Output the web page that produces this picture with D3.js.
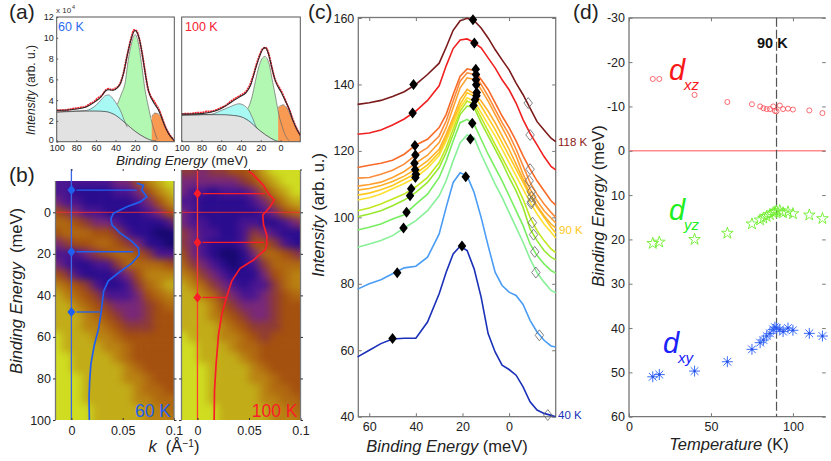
<!DOCTYPE html>
<html><head><meta charset="utf-8">
<script src="https://cdn.jsdelivr.net/npm/d3@7"></script>
<style>
html,body{margin:0;padding:0;background:#fff}
svg{display:block;font-family:"Liberation Sans",Arial,sans-serif}
</style></head><body><svg id="c" width="831" height="461"></svg>
<script>
// ---------- panel (a) ----------
const aGray60=[[100,2.85],[80,2.95],[60,2.95],[50,2.9],[40,2.55],[30,1.8],[20,1.0],[10,.4],[0,.05],[-5,0]];
const aCyan60=[[100,2.85],[70,3.0],[60,3.5],[55,4.0],[50,4.45],[47,4.5],[44,4.3],[40,3.8],[35,3.0],[30,1.8],[28,1.4]];
const aGreen60=[[45,0],[38,3.6],[37,3.86],[33.7,4.66],[30.3,5.6],[26.9,7.9],[23.5,9.5],[20,10.3],[16.7,9.5],[13.3,7.4],[9.9,5.0],[6.5,3.4],[3,1.9],[0,.96],[-2.7,.2],[-3.5,0]];
const aOrange60=[[3,2.4],[0,2.75],[-3,2.7],[-7,2.3],[-10,1.6],[-13,1.0],[-17,.4],[-20,.1],[-20,0],[-4.5,0]];
const aFit60=[[100,3.0],[80,3.15],[70,3.35],[60,3.9],[55,4.3],[50,4.9],[47,5.0],[42,4.95],[38,5.2],[35,5.6],[32,6.5],[28,8.3],[24,9.9],[20,10.7],[18,10.5],[15,9.6],[12,8.0],[9,6.2],[6,4.8],[3,4.1],[0,3.6],[-3,3.2],[-6,2.6],[-10,1.6],[-14,.8],[-20,.1]];
const aData60=[[100,3.02],[90,3.05],[85,3.15],[80,3.22],[75,3.3],[70,3.4],[66,3.65],[62,3.85],[58,4.2],[54,4.45],[50,4.95],[47,5.1],[44,5.0],[41,5.1],[38,5.25],[35,5.65],[32,6.55],[28,8.35],[24,9.95],[21,10.75],[19,10.7],[16,10.0],[13,8.6],[10,6.85],[7,5.15],[4,4.35],[1,3.95],[-2,3.45],[-5,2.95],[-8,2.15],[-11,1.4],[-14,.85],[-17,.45],[-20,.12]];
const aGray100=[[100,2.55],[80,2.6],[60,2.6],[50,2.55],[40,2.4],[30,1.85],[25,1.4],[20,1.0],[10,.35],[5,.1],[0,0]];
const aCyan100=[[100,2.55],[70,2.65],[60,3.0],[50,3.4],[42,3.65],[38,3.55],[32,3.0],[28,2.2],[25,1.5],[24,1.3]];
const aGreen100=[[40,0],[33,3.2],[32,3.4],[28.9,4.3],[25.5,5.8],[22,7.2],[18.7,8.0],[16,8.2],[11.9,7.6],[8.5,6],[5,4.3],[1.7,2.6],[-1.7,1.45],[-5,.6],[-8.5,.1],[-9,0]];
const aOrange100=[[2.4,3.3],[-2.7,3.55],[-6.8,3.2],[-11.9,2.1],[-17,1.1],[-20,.6],[-20,0],[-8.5,0]];
const aFit100=[[100,2.65],[80,2.7],[70,2.85],[60,3.2],[50,3.8],[45,4.1],[40,4.4],[35,4.7],[30,5.5],[26,6.8],[22,8.0],[18,8.9],[16,9.05],[14,8.9],[11,8],[8,6.8],[5,5.8],[2,5.2],[-1,4.7],[-4,4.1],[-8,3.3],[-12,2.2],[-16,1.3],[-20,.6]];
const aData100=[[100,2.68],[90,2.7],[85,2.78],[80,2.78],[75,2.9],[70,2.92],[65,3.05],[60,3.28],[55,3.5],[50,3.9],[45,4.2],[40,4.48],[36,4.72],[32,5.25],[28,6.25],[24,7.55],[21,8.35],[18,8.95],[15,9.05],[12,8.45],[9,7.25],[6,6.1],[3,5.45],[0,5.0],[-3,4.4],[-6,3.7],[-9,3.05],[-12,2.25],[-16,1.33],[-20,.62]];
const aYTicks=[0,2,4,6,8,10,12];
const aXTicks=[100,80,60,40,20,0];

// ---------- panel (b) ----------
const heatK=[-0.015,-0.005,0.005,0.015,0.025,0.035,0.045,0.055,0.065,0.075,0.085,0.095,0.105];
const heatE60=[-15,-10,-5,0,5,10,15,20,25,30,35,40,45,50,55,60,65,70,75,80,85,90,95,100];
const heat60=[
[2,2,2,2,2,2,3,3,5,7,8,9,9],
[2,2,1,1,1,1,2,2,3,5,7,8,9],
[3,2,2,1,1,1,1,1,2,3,5,7,8],
[5,4,3,2,2,1,1,1,1,2,3,5,6],
[6,6,5,4,3,3,2,1,1,1,1,2,4],
[5,6,6,6,5,5,4,2,1,1,0,0,1],
[3,4,5,5,6,6,5,4,3,1,1,0,0],
[2,2,2,3,4,5,6,6,5,4,2,2,2],
[3,2,1,1,2,2,4,6,6,6,6,5,4],
[5,4,2,1,1,1,2,3,5,7,7,7,7],
[7,6,5,4,2,1,1,2,4,6,7,8,8],
[8,7,6,5,4,2,2,2,3,5,6,7,7],
[8,8,7,6,5,4,3,3,3,4,5,6,6],
[8,8,8,7,6,5,4,3,3,4,5,5,5],
[8,8,8,7,7,6,5,4,4,4,5,5,5],
[9,8,8,8,7,7,6,5,5,5,5,5,5],
[9,8,8,8,8,7,7,6,5,5,5,5,5],
[9,9,8,8,8,8,7,6,5,5,5,5,5],
[9,9,8,8,8,8,8,7,6,5,5,5,5],
[9,9,9,8,8,8,8,7,7,6,5,5,5],
[9,9,9,8,8,8,8,8,7,6,6,5,5],
[9,9,9,8,8,8,8,8,7,7,6,6,6],
[9,9,9,9,8,8,8,8,8,7,7,6,6],
[9,9,9,9,8,8,8,8,8,7,7,7,6]];
const heatE100=[-20,-15,-10,-5,0,5,10,15,20,25,30,35,40,45,50,55,60,65,70,75,80,85,90,95,100];
const heat100=[
[4,4,3,4,4,5,5,6,8,9,9,9,9],
[3,3,3,3,3,3,4,5,7,8,9,9,9],
[3,2,2,1,2,2,2,3,5,7,8,9,9],
[2,2,1,1,1,1,1,2,3,5,7,8,8],
[3,2,1,1,1,1,1,1,2,3,5,6,7],
[3,2,2,1,1,1,2,2,1,1,2,3,4],
[4,3,2,2,1,1,2,4,3,2,1,1,1],
[4,3,2,1,1,1,2,5,5,4,2,1,1],
[5,3,2,1,0,0,1,3,6,6,5,4,3],
[6,4,3,2,1,0,1,2,4,6,6,6,6],
[7,6,4,3,2,1,1,1,3,5,6,7,7],
[8,7,6,4,3,2,1,2,2,4,6,7,7],
[8,8,7,6,4,3,2,2,3,4,5,6,6],
[8,8,8,7,5,4,3,3,3,4,5,5,5],
[8,8,8,7,6,5,4,3,3,4,5,5,5],
[8,8,8,8,7,6,5,4,4,4,5,5,5],
[9,8,8,8,7,7,6,5,4,5,5,5,5],
[9,9,8,8,8,7,6,6,5,5,5,5,5],
[9,9,8,8,8,8,7,6,5,5,5,5,5],
[9,9,9,8,8,8,8,7,6,5,5,5,5],
[9,9,9,8,8,8,8,7,7,6,5,5,5],
[9,9,9,8,8,8,8,8,7,6,6,5,5],
[9,9,9,8,8,8,8,8,7,7,6,6,5],
[9,9,9,9,8,8,8,8,8,7,7,6,6],
[9,9,9,9,8,8,8,8,8,7,7,7,6]];
const heatLevels=[0,1,2,3,4,5,6,7,8,9];
const heatColors=["#16086e","#2a0c8e","#4a1590","#782878","#8e3a38","#a4500f","#b06810","#b98212","#c2ac18","#cfdc20"];
const edc60=[[.0637,-14],[.0702,-13],[.0686,-10.7],[.0735,-7.5],[.067,-5],[.054,-2.7],[.041,.5],[.0385,2.9],[.0395,6],[.0476,10],[.059,14],[.0654,17.3],[.066,20.5],[.059,24.5],[.0476,28.5],[.036,33],[.0314,38],[.029,48],[.0265,56],[.0223,64],[.019,73],[.0178,81],[.0172,89],[.0175,100]];
const edc100=[[.0495,-19.9],[.0544,-18],[.064,-13],[.0689,-9],[.0744,-6],[.0705,-2.7],[.0634,1.3],[.0641,6],[.0673,11],[.0673,15.7],[.0657,18],[.0544,23],[.0414,27],[.0333,33],[.0285,40.5],[.0236,49],[.0204,59],[.0181,73],[.0165,86],[.0162,100]];
const peaks60=[[-10.7,.0637],[19,.0605],[48,.0277]];
const peaks100=[[-9,.0655],[14.5,.0645],[41,.0285]];
const bYTicks=[0,20,40,60,80,100];
const bXTicks=[0,0.05,0.1];

// ---------- panel (c) ----------
const cE=[65,60,55,50,45,40,35,30,27,24,21,18,15,12,9,6,3,0,-3,-6,-9,-12,-15,-18,-20];
const c118=[134,134.5,135.2,136.4,137.8,140,143,146.4,151.2,156.3,159.2,159.9,159.2,157,154,150.5,147.4,144.4,140.4,136.9,132.9,128.8,126.3,123.8,122.8];
const c110=[125,125.4,126.3,127.8,129.6,132,135.2,139.6,145.6,150.8,153.4,153.7,152.6,151,148,145,141.4,138.4,134.4,129.4,125.3,121.8,118.3,115.3,114.3];
const c100=[115,115.7,116.3,117.2,119,121.8,123.5,127,131,137,142.5,144.7,144.2,141.5,138.5,134.5,130.5,127,123,118.5,114.5,111,108,105,103.7];
const c97=[111.8,112,113,114.2,116,118.8,121,124.5,129,135,141,143.5,143,140,136.5,132.5,128.5,125,120.5,115.5,110.5,107,104,101.5,100];
const c94=[109.4,109.9,110.6,112,113.8,116.3,118.7,122.5,127,133,139,142,141.5,138.5,135,131,127,123,118.5,113,108.5,105,102,99.8,98.3];
const c92=[108.2,108.7,109.6,110.8,112.4,114.5,117,120.5,125,130,135.5,138.5,137.2,135,132,128.5,124.5,120.5,116,111.5,107,103.5,100.5,98,96.8];
const c90=[106.7,107.3,108.3,109.6,111.4,113.2,115.8,119.5,124,129,134,137.5,136.5,133.5,130,126.5,122.5,118.5,114.5,110.5,106.5,103,100,97,95.3];
const c88=[105.2,105.9,107,108.6,110.2,112,114.8,118.6,123,128,133,136,135,131.5,128,124.5,120.5,116.5,112.5,108.5,104.5,101,98,95.5,93.8];
const c86=[102,102.8,104,105.5,107,109.2,112,116.5,121,126.5,132,135,134,130,126,122,118,114,110,105.5,100,96,93,90.5,89.4];
const c84=[100.2,101,102,103.5,105.2,107.5,110.5,115,119.5,125,131,133.5,133,128.5,124.5,120.5,116.5,112,108,103,96.5,93,90,88,87.2];
const c80=[96.2,97,98,99.5,100.8,104,107,112,117,123,128.5,129.5,128,123.5,119,115,111,106.5,102,97.5,92,88.5,86,84,83.2];
const c75=[91,92,93,94.5,96.8,99,102,106.5,111,117,122.5,124.8,124,119,114.5,110,106,101.5,97,92.5,87.5,83.3,80.5,78,77.3];
const c60=[78.4,80,81.2,83,84.8,85.3,88,95,103,110.5,113.4,112.5,107.5,100,91.5,83.5,79.5,77.5,76.5,73.8,69,65.5,63,61.3,61];
const c40=[58,60,62,63.4,63.6,63.6,68.5,77,83.5,89,91.3,90,84.5,76,65,59.5,55.5,54.2,52.5,49,44.5,42,41,40.4,40];
const cColors=["#1a30b8","#4a9cf5","#88f098","#78ee60","#98e830","#c0e820","#ffe030","#ffc820","#ffb028","#ffa030","#fb8c3c","#f86a28","#f02020","#7a1a1a"];
const cDiamondLow=[[50,63.5],[48,83.3],[45.3,96.8],[44,101.5],[42.5,106.5],[42,108.6],[40.2,112],[40,113],[40.3,114.3],[40.6,116.3],[40.2,118.8],[40.4,121.6],[41.4,131.4],[41,140]];
const cDiamondPeak=[[20.2,91.4],[18.6,112.2],[16.6,123.6],[15.8,128.3],[15.3,133.7],[14.6,135.4],[14,136.6],[13.9,137.6],[14.1,139.9],[14.2,141.4],[14.2,143],[14.3,144.6],[14.9,152.5],[15.5,159.5]];
const cDiamondHollow=[[-16.6,40.5],[-13,64.5],[-11.5,83.4],[-11,89.6],[-10.5,94.8],[-10,98.4],[-9.5,104.2],[-9.6,104.7],[-9.7,106.2],[-9.5,107.7],[-8.6,111],[-9,114.5],[-9,124.8],[-8.2,134.4]];
const cYTicks=[40,60,80,100,120,140,160];
const cXTicks=[60,40,20,0];

// ---------- panel (d) ----------
const dT=[14.5,18.5,40,60,75,80,82,84,86,88,89,90,92,94,97,100,110,118];
const dXZ=[-16.2,-16.2,-12.6,-11,-10.5,-10,-9.6,-9.4,-9.4,-10,-9,-8.9,-10.2,-9.4,-9.5,-9.3,-9.1,-8.5];
const dYZ=[20.9,20.6,20,18.6,16.5,15.6,15.2,14.8,14.4,14,13.8,13.6,13.5,14,13.8,14.2,14.5,15.3];
const dXY=[51,50.5,49.7,47.6,44.8,43.3,42.7,41.8,41.2,40.3,39.8,40,40.3,40.8,40,40.5,41.2,41.8];
const dYTicks=[-30,-20,-10,0,10,20,30,40,50,60];
const dXTicks=[0,50,100];

// ---------- drawing ----------
const svg=d3.select("#c");
const defs=svg.append("defs");
const F=(d)=>String(d);
const GR="#777";
function txt(s,x,y,size,fill="#222",opt={}){
  const t=svg.append("text").attr("x",x).attr("y",y).attr("font-size",size).attr("fill",fill)
    .attr("text-anchor",opt.a||"start");
  if(opt.i) t.attr("font-style","italic");
  if(opt.b) t.attr("font-weight","bold");
  if(opt.r) t.attr("transform",`rotate(-90 ${x} ${y})`);
  return t.text(s);
}
function mixLabel(parts,x,y,size,opt={}){
  const t=svg.append("text").attr("x",x).attr("y",y).attr("font-size",size).attr("fill","#222").attr("text-anchor","middle");
  if(opt.r) t.attr("transform",`rotate(-90 ${x} ${y})`);
  parts.forEach(p=>{const s=t.append("tspan").text(p[0]).attr("xml:space","preserve");
    if(p[1]) s.attr("font-style","italic");
    if(p[2]) s.attr("baseline-shift","super").attr("font-size",size*.62);});
}
function axis(gen,tx,ty,ticks,fs,stroke,fmt=F,tsize=-3.5,pad=4){
  const g=svg.append("g").attr("transform",`translate(${tx},${ty})`)
    .call(gen.tickValues(ticks).tickFormat(fmt).tickSizeInner(tsize).tickSizeOuter(0).tickPadding(pad));
  g.select(".domain").attr("stroke",stroke).attr("stroke-width",1.3);
  g.selectAll(".tick line").attr("stroke",stroke).attr("stroke-width",1);
  g.selectAll("text").attr("font-size",fs).attr("fill","#222").attr("font-family",'"Liberation Sans",Arial,sans-serif');
  return g;
}

// (a)
function panelA(x0,x1,gray,cy,gr,or,fit,dat,showY){
  const x=d3.scaleLinear().domain([100,-20]).range([x0,x1]);
  const y=d3.scaleLinear().domain([0,12]).range([141.7,17]);
  const clipId="a"+Math.round(x0);
  defs.append("clipPath").attr("id",clipId).append("rect").attr("x",x0).attr("y",17).attr("width",x1-x0).attr("height",124.7);
  const g=svg.append("g").attr("clip-path",`url(#${clipId})`);
  const area=(pts,fill)=>{
    const p=[...pts];
    if(p[p.length-1][1]>0) p.push([p[p.length-1][0],0]);
    if(p[0][1]>0) p.push([p[0][0],0]);
    g.append("path").attr("d",d3.line().x(d=>x(d[0])).y(d=>y(d[1])).curve(d3.curveLinear)(p)+"Z").attr("fill",fill);
  };
  const line=(pts,st,w)=>g.append("path").attr("d",d3.line().x(d=>x(d[0])).y(d=>y(d[1])).curve(d3.curveMonotoneX)(pts)).attr("fill","none").attr("stroke",st).attr("stroke-width",w);
  area(gr,"#b2f8b2"); area(cy,"#a8f8f4"); area(or,"#f89a52"); area(gray,"#e2e2e2");
  line(gr.filter(d=>d[1]>0),"#6a6a6a",.7); line(cy,"#6a6a6a",.7); line(or.filter(d=>d[1]>0),"#6a6a6a",.7); line(gray,"#444",.8);
  line(dat,"#f8202c",1.9).attr("stroke-dasharray","2 .6"); line(fit,"#2a2a2a",1.1);
  svg.append("rect").attr("x",x0).attr("y",17).attr("width",x1-x0).attr("height",124.7).attr("fill","none").attr("stroke","#555").attr("stroke-width",1);
  const g1=axis(d3.axisBottom(x),0,141.7,aXTicks,9,"#555",F,-1.5);
  g1.select(".domain").attr("stroke","none");
  g1.selectAll("text").attr("dy","0.55em");
  if(showY){
    const g2=axis(d3.axisLeft(y),x0,0,aYTicks,9,"#555",F,-1.5,3);
    g2.select(".domain").attr("stroke","none");
    g2.selectAll("text").filter(d=>d===0).attr("dy","0.05em");
  }
}
panelA(56.7,174.3,aGray60,aCyan60,aGreen60,aOrange60,aFit60,aData60,true);
panelA(181.7,300.3,aGray100,aCyan100,aGreen100,aOrange100,aFit100,aData100,false);
txt("x 10",56,13,8,"#333");
txt("4",72,9,5.5,"#333");
txt("60 K",58,31,12.5,"#2b6cf0");
txt("100 K",185,31,12.5,"#f62030");
mixLabel([["Binding Energy",1],[" (meV)"]],182,164.5,13.5);
mixLabel([["Intensity",1],[" (arb. u.)"]],35,90,12,{r:true});

// (b)
const heatColor=d3.scaleLinear().domain(heatLevels).range(heatColors);
defs.append("filter").attr("id","soft").attr("x","-10%").attr("y","-10%").attr("width","120%").attr("height","120%")
  .attr("color-interpolation-filters","sRGB").append("feGaussianBlur").attr("stdDeviation","4 3.6");
function panelB(x0,x1,k0,k1,topE,topY,rows,Es,edc,peaks,col,name,lineCol,showY){
  const x=d3.scaleLinear().domain([k0,k1]).range([x0,x1]);
  const y=d3.scaleLinear().domain([0,100]).range([212.3,420]);
  const id="b"+Math.round(x0);
  defs.append("clipPath").attr("id",id).append("rect").attr("x",x0).attr("y",topY).attr("width",x1-x0).attr("height",420-topY);
  const g=svg.append("g").attr("clip-path",`url(#${id})`).append("g").attr("filter","url(#soft)");
  const dk=(heatK[1]-heatK[0])/2, dE=2.5;
  rows.forEach((r,i)=>r.forEach((v,j)=>{
    let l=x(heatK[j]-dk), rr=x(heatK[j]+dk), t=y(Es[i]-dE), b=y(Es[i]+dE);
    if(j===0) l-=30; if(j===r.length-1) rr+=30; if(i===0) t-=30; if(i===rows.length-1) b+=30;
    g.append("rect").attr("x",l).attr("y",t).attr("width",rr-l+.6).attr("height",b-t+.6).attr("fill",heatColor(v));
  }));
  svg.append("line").attr("x1",x0).attr("x2",x1).attr("y1",y(0)).attr("y2",y(0)).attr("stroke","#f03030").attr("stroke-width",.9);
  svg.append("line").attr("x1",x(0)).attr("x2",x(0)).attr("y1",169).attr("y2",420).attr("stroke",lineCol).attr("stroke-width",1.3);
  svg.append("path").attr("d",d3.line().x(d=>x(d[0])).y(d=>y(d[1]))(edc)).attr("fill","none").attr("stroke",col).attr("stroke-width",1.7);
  peaks.forEach(p=>{
    svg.append("line").attr("x1",x(0)+5).attr("x2",x(p[1])).attr("y1",y(p[0])).attr("y2",y(p[0])).attr("stroke",col).attr("stroke-width",1.3);
    svg.append("path").attr("transform",`translate(${x(0)},${y(p[0])})`).attr("d",diamond(8,10)).attr("fill",col);
  });
  const gb=axis(d3.axisBottom(x),0,420,bXTicks,12.5,"#333",F,-2);
  gb.selectAll("text").attr("dy","0.85em");
  gb.select(".domain").attr("stroke","none");
  const gt=axis(d3.axisTop(x),0,169,bXTicks,0,"#333",()=>"",-2); gt.select(".domain").attr("stroke","none");
  svg.append("line").attr("x1",x0).attr("x2",x0).attr("y1",topY).attr("y2",420).attr("stroke",GR).attr("stroke-width",1.3);
  svg.append("line").attr("x1",x1).attr("x2",x1).attr("y1",topY).attr("y2",420).attr("stroke",GR).attr("stroke-width",1.3);
  const gl=axis(d3.axisLeft(y),x0,0,bYTicks,12.5,"#333",showY?F:()=>"",2.5,2);
  gl.select(".domain").attr("stroke","none");
  const gr=axis(d3.axisRight(y),x1,0,bYTicks,0,"#333",()=>"",2.5,2);
  gr.select(".domain").attr("stroke","none");
  txt(name,x1-3,417,17.5,col,{a:"end"});
}
function diamond(w,h){
  return d3.line()([[0,-h/2],[w/2,0],[0,h/2],[-w/2,0]])+"Z";
}
panelB(55.5,174,-0.0155,0.1,-15,181,heat60,heatE60,edc60,peaks60,"#2060f0","60 K","#3a66e8",true);
panelB(181.5,300.5,-0.0155,0.1,-20,170,heat100,heatE100,edc100,peaks100,"#fa1c28","100 K","#ff3a30",false);
mixLabel([["k",1],["  (Å"],["−1",0,1],[")"]],174,452,16.5);
mixLabel([["Binding Energy",1],["  (meV)"]],22,291,16.5,{r:true});

// (c)
{
  const x=d3.scaleLinear().domain([64.7,-20]).range([358.3,555.7]);
  const y=d3.scaleLinear().domain([40,160]).range([416.7,18]);
  svg.append("rect").attr("x",358.3).attr("y",17.5).attr("width",197.4).attr("height",399.2).attr("fill","none").attr("stroke",GR).attr("stroke-width",1.3);
  const ln=d3.line().x((d,i)=>x(cE[i])).y(d=>y(d));
  [c40,c60,c75,c80,c84,c86,c88,c90,c92,c94,c97,c100,c110,c118].forEach((s,i)=>{
    svg.append("path").attr("d",ln(s)).attr("fill","none").attr("stroke",cColors[i]).attr("stroke-width",1.6);
  });
  [...cDiamondLow,...cDiamondPeak].forEach(d=>{
    svg.append("path").attr("transform",`translate(${x(d[0])},${y(d[1])})`).attr("d",diamond(8.5,11)).attr("fill","#000");
  });
  cDiamondHollow.forEach(d=>{
    svg.append("path").attr("transform",`translate(${x(d[0])},${y(d[1])})`).attr("d",diamond(8.5,11)).attr("fill","none").attr("stroke","#666").attr("stroke-width",.8);
  });
  const gl=axis(d3.axisLeft(y),358.3,0,cYTicks,12.5,GR); gl.select(".domain").attr("stroke","none");
  const gb=axis(d3.axisBottom(x),0,416.7,cXTicks,12.5,GR); gb.select(".domain").attr("stroke","none");
  gb.selectAll("text").attr("dy","0.85em");
  const gt=axis(d3.axisTop(x),0,17.5,cXTicks,0,GR,()=>""); gt.select(".domain").attr("stroke","none");
  const gr=axis(d3.axisRight(y),555.7,0,cYTicks,0,GR,()=>""); gr.select(".domain").attr("stroke","none");
  txt("118 K",558,146,11.5,"#8a1a20");
  txt("90 K",559,234,11.5,"#ffc820");
  txt("40 K",558,419,11.5,"#1a30b8");
  mixLabel([["Binding Energy",1],[" (meV)"]],447,452,16.5);
  mixLabel([["Intensity",1],[" (arb. u.)"]],324,215,16.5,{r:true});
}

// (d)
{
  const x=d3.scaleLinear().domain([0,120]).range([629,825.7]);
  const y=d3.scaleLinear().domain([-30,60]).range([17.8,416.7]);
  svg.append("path").attr("d","M825.7,17.8H629V416.7H825.7").attr("fill","none").attr("stroke",GR).attr("stroke-width",1.3);
  svg.append("line").attr("x1",629).attr("x2",825.7).attr("y1",y(0)).attr("y2",y(0)).attr("stroke","#ff8a8a").attr("stroke-width",1.6);
  svg.append("line").attr("x1",x(90)).attr("x2",x(90)).attr("y1",17.8).attr("y2",416.7).attr("stroke","#555").attr("stroke-width",1.2).attr("stroke-dasharray","9 3");
  const astr={draw(c,s){const r=Math.sqrt(s);for(let i=0;i<4;i++){const a=i*Math.PI/4;c.moveTo(-r*Math.cos(a),-r*Math.sin(a));c.lineTo(r*Math.cos(a),r*Math.sin(a));}}};
  dT.forEach((t,i)=>{
    svg.append("path").attr("transform",`translate(${x(t)},${y(dXZ[i])})`).attr("d",d3.symbol(d3.symbolCircle,20)()).attr("fill","none").attr("stroke","#f84850").attr("stroke-width",.8);
    svg.append("path").attr("transform",`translate(${x(t)},${y(dYZ[i])})`).attr("d",d3.symbol(d3.symbolStar,42)()).attr("fill","none").attr("stroke","#70ee30").attr("stroke-width",.9);
    svg.append("path").attr("transform",`translate(${x(t)},${y(dXY[i])})`).attr("d",d3.symbol(astr,30)()).attr("fill","none").attr("stroke","#3a6cf8").attr("stroke-width",1);
    svg.append("circle").attr("cx",x(t)).attr("cy",y(dXY[i])).attr("r",1.3).attr("fill","#2a50e8");
  });
  const gl=axis(d3.axisLeft(y),629,0,dYTicks,12.5,GR); gl.select(".domain").attr("stroke","none");
  const gb=axis(d3.axisBottom(x),0,416.7,dXTicks,12.5,GR); gb.select(".domain").attr("stroke","none");
  gb.selectAll("text").attr("dy","0.85em");
  const gt=axis(d3.axisTop(x),0,17.8,dXTicks,0,GR,()=>""); gt.select(".domain").attr("stroke","none");
  const gr=axis(d3.axisRight(y),825.7,0,dYTicks,0,GR,()=>""); gr.select(".domain").attr("stroke","none");
  txt("90 K",757,48,14.5,"#111",{b:true});
  txt("d",669,80,29,"#f81818",{i:true});
  txt("xz",684,90,15,"#f81818",{i:true});
  txt("d",669,220,29,"#22ee22",{i:true});
  txt("yz",684,230,15,"#22ee22",{i:true});
  txt("d",663,353,29,"#1a22f8",{i:true});
  txt("xy",678,363,15,"#1a22f8",{i:true});
  mixLabel([["Temperature",1],[" (K)"]],729,450,16.5);
  mixLabel([["Binding Energy",1],[" (meV)"]],604,206,16.5,{r:true});
}
txt("(a)",9,19,21);
txt("(b)",9,182,21);
txt("(c)",308,19,21);
txt("(d)",573,19,21);
</script></body></html>
